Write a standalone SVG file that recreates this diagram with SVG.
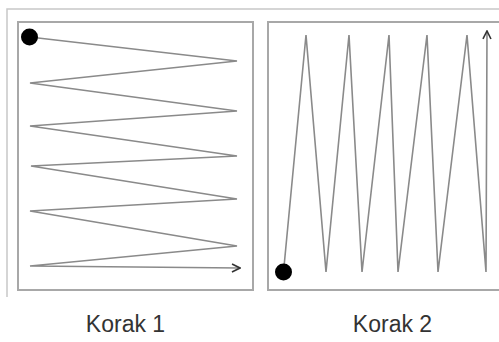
<svg xmlns="http://www.w3.org/2000/svg" width="499" height="342" viewBox="0 0 499 342">
<style>
.frame{fill:none;stroke:#c8c8c8;stroke-width:1.5}
.box{fill:#fff;stroke:#a8a8a8;stroke-width:2}
.path{fill:none;stroke:#8a8a8a;stroke-width:1.6;stroke-linejoin:miter}
.dot{fill:#000}
.lbl{font-family:"Liberation Sans",Arial,sans-serif;font-size:23px;fill:#333;text-anchor:middle}
</style>
<defs>
<marker id="arr" viewBox="0 0 10 10" refX="9" refY="5" markerWidth="10" markerHeight="10" markerUnits="userSpaceOnUse" orient="auto">
<path d="M1,1 L9,5 L1,9" fill="none" stroke="#333" stroke-width="1.6"/>
</marker>
</defs>
<rect width="499" height="342" fill="#fff"/>
<path class="frame" d="M7,297 V9 H499"/>
<g id="box1">
<rect class="box" x="18" y="22" width="235" height="268"/>
</g>
<g id="box2">
<rect class="box" x="268" y="22" width="240" height="268"/>
</g>
<g id="connectors">
<path class="path" marker-end="url(#arr)" d="M29.5,37 L237,61 L30,83 L237,111 L30,126 L237,156 L31,166 L237,199 L30,211 L237,246 L30,266 L240,268"/>
<path class="path" marker-end="url(#arr)" d="M283.5,272 L306,35 L326,272 L349,35 L362,272 L389,35 L398,272 L427,35 L438,272 L467,35 L486,272 L487,31"/>
</g>
<g id="start1"><circle class="dot" cx="29.5" cy="37" r="8.5"/></g>
<g id="start2"><circle class="dot" cx="283.5" cy="272" r="8.5"/></g>
<text class="lbl" x="125.5" y="332">Korak 1</text>
<text class="lbl" x="392.5" y="332">Korak 2</text>
</svg>
